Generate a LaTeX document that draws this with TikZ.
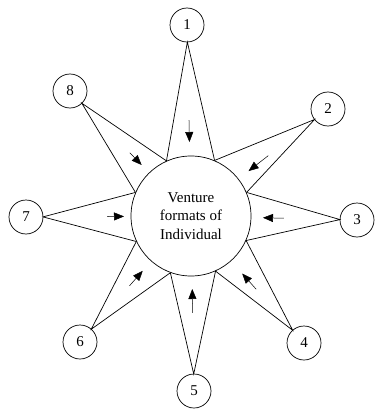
\documentclass[tikz,border=0pt]{standalone}
\usepackage{fontspec}
\setmainfont{Liberation Serif}
\usepackage{tikz}
\usetikzlibrary{arrows.meta, positioning, calc}

\begin{document}
\begin{tikzpicture}[
  x=1pt, y=-1pt,
  font=\fontsize{15}{18.5}\selectfont,
  line width=0.7pt,
  hub/.style={
    draw, circle, minimum size=120pt, inner sep=0pt, align=center
  },
  spot/.style={draw, circle, minimum size=34pt, inner sep=0pt},
  push/.style={-{Triangle[length=10pt, width=8pt]}, line width=0.5pt}
]
  \useasboundingbox (0,0) rectangle (377,412);

  \node[hub] (c) at (191,216) {Venture\\formats of\\Individual};

  \node[spot] (n1) at (187,25) {1};
  \node[spot] (n2) at (328,109) {2};
  \node[spot] (n3) at (357,220) {3};
  \node[spot] (n4) at (304,343) {4};
  \node[spot] (n5) at (194,391) {5};
  \node[spot] (n6) at (80,342) {6};
  \node[spot] (n7) at (26,217) {7};
  \node[spot] (n8) at (70,91) {8};

  % star points
  \coordinate (t1) at ($(n1)!17pt!(c)$);
  \coordinate (t2) at ($(n2)!17pt!(c)$);
  \coordinate (t3) at ($(n3)!17pt!(c)$);
  \coordinate (t4) at ($(n4)!17pt!(c)$);
  \coordinate (t5) at ($(n5)!17pt!(c)$);
  \coordinate (t6) at ($(n6)!17pt!(c)$);
  \coordinate (t7) at ($(n7)!17pt!(c)$);
  \coordinate (t8) at ($(n8)!17pt!(c)$);

  \draw (c.114) -- (t1) -- (c.67);
  \draw (c.67) -- (t2) -- (c.23);
  \draw (c.23) -- (t3) -- (c.-24);
  \draw (c.-24) -- (t4) -- (c.-66);
  \draw (c.-66) -- (t5) -- (c.-110);
  \draw (c.-110) -- (t6) -- (c.-155);
  \draw (c.-155) -- (t7) -- (c.157);
  \draw (c.157) -- (t8) -- (c.114);

  % inward arrows
  \draw[push] ($(c)!96pt!(n1)$) -- ($(c)!74pt!(n1)$);
  \draw[push] ($(c)!98pt!(n2)$) -- ($(c)!73pt!(n2)$);
  \draw[push] ($(c)!93pt!(n3)$) -- ($(c)!72pt!(n3)$);
  \draw[push] ($(c)!98pt!(n4)$) -- ($(c)!77pt!(n4)$);
  \draw[push] ($(c)!97pt!(n5)$) -- ($(c)!73pt!(n5)$);
  \draw[push] ($(c)!93pt!(n6)$) -- ($(c)!73pt!(n6)$);
  \draw[push] ($(c)!84pt!(n7)$) -- ($(c)!67pt!(n7)$);
  \draw[push] ($(c)!88pt!(n8)$) -- ($(c)!71pt!(n8)$);
\end{tikzpicture}
\end{document}
